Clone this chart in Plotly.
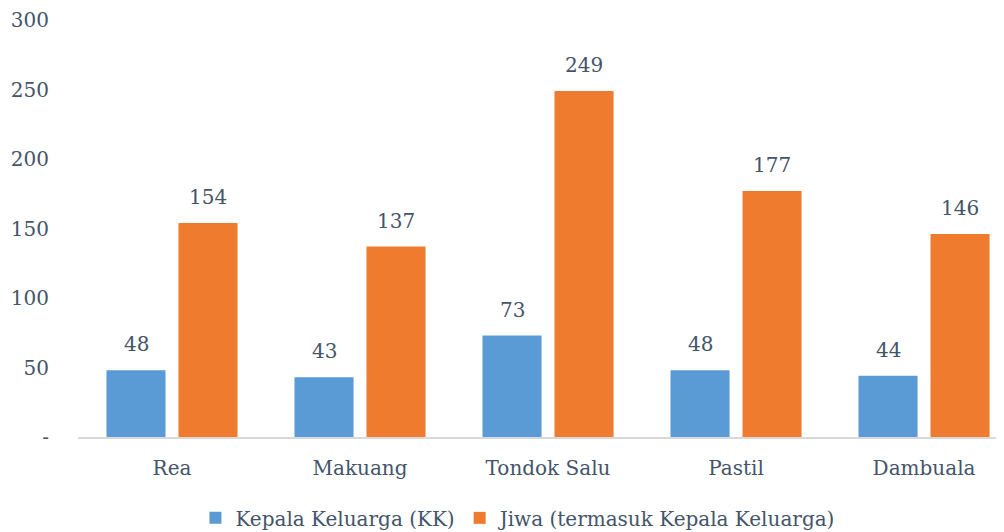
import plotly.graph_objects as go

desa = ["Rea", "Makuang", "Tondok Salu", "Pastil", "Dambuala"]
kk = [48, 43, 73, 48, 44]
jiwa = [154, 137, 249, 177, 146]

y_ticks = [0, 50, 100, 150, 200, 250, 300]
y_labels = ["-", "50", "100", "150", "200", "250", "300"]

txt = "#44546A"
font = "DejaVu Serif"

fig = go.Figure()
fig.add_trace(go.Bar(x=desa, y=kk, name="Kepala Keluarga (KK)",
                     marker=dict(color="#5B9BD5", line=dict(width=0))))
fig.add_trace(go.Bar(x=desa, y=jiwa, name="Jiwa (termasuk Kepala Keluarga)",
                     marker=dict(color="#EE7B2E", line=dict(width=0))))

# value labels above bars
for i, d in enumerate(desa):
    for vals, dx in ((kk, -36), (jiwa, 36)):
        fig.add_annotation(x=d, y=vals[i], text=str(vals[i]), showarrow=False,
                           xshift=dx, yshift=12, yanchor="bottom",
                           font=dict(family=font, size=20, color=txt))

# page body has an 8px margin, so the figure is sized to fit the window
fig.update_layout(
    width=996, height=524,
    margin=dict(l=70, r=1, t=12, b=95, autoexpand=False),
    plot_bgcolor="white", paper_bgcolor="white",
    barmode="group", bargap=0.234, bargroupgap=0.18,
    font=dict(family=font, size=20, color=txt),
    legend=dict(orientation="h", x=0.5125, xanchor="center", xref="container",
                y=0.027, yanchor="middle", yref="container",
                font=dict(size=20, color=txt)),
    showlegend=True,
)
fig.update_xaxes(range=[-0.5, 4.42], showline=True, linecolor="#D9D9D9",
                 linewidth=2, showgrid=False, ticks="outside", ticklen=12,
                 tickcolor="rgba(0,0,0,0)", tickfont=dict(size=20, color=txt),
                 automargin=False)
fig.update_yaxes(range=[0, 300], tickvals=y_ticks, ticktext=y_labels,
                 showgrid=False, zeroline=False, showline=False,
                 ticks="outside", ticklen=24, tickcolor="rgba(0,0,0,0)",
                 tickfont=dict(size=20, color=txt), automargin=False)

fig.write_html("out.html")
